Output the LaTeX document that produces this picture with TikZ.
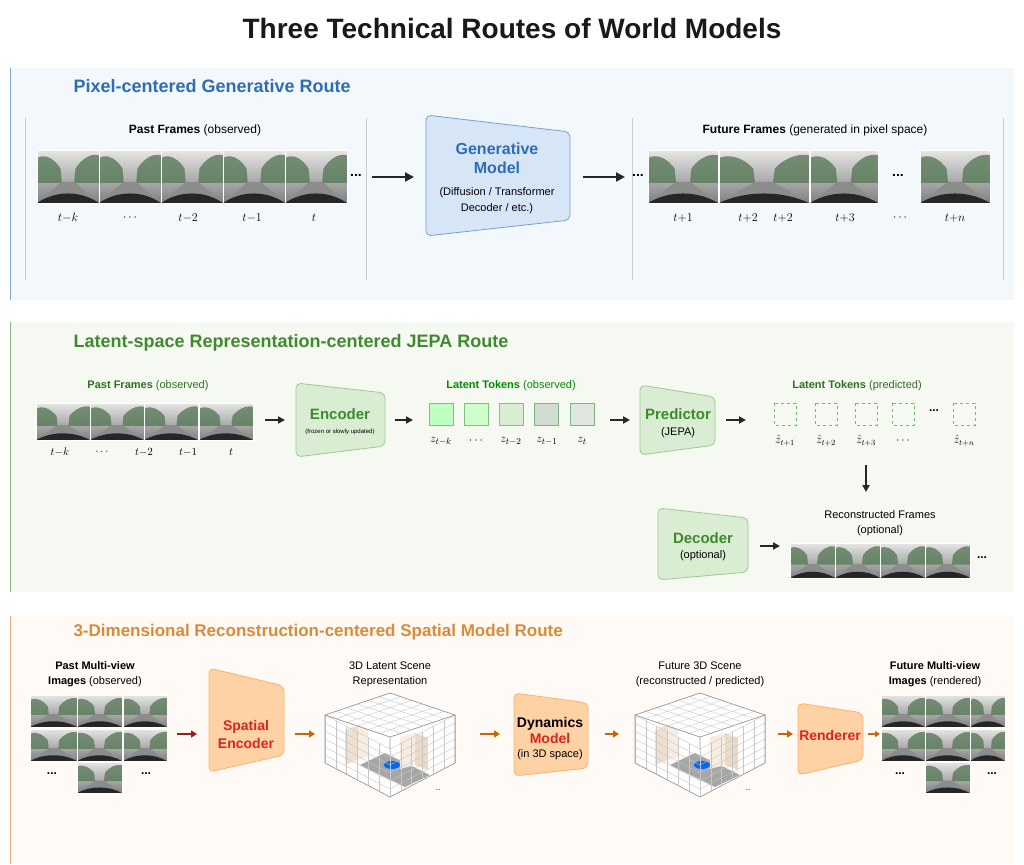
\documentclass[tikz,border=0pt]{standalone}
\usepackage{fontspec}
\setmainfont{Liberation Sans}
\usetikzlibrary{arrows.meta,calc}
\definecolor{bluet}{HTML}{2E6DB4}
\definecolor{greent}{HTML}{3F8A2E}
\definecolor{oranget}{HTML}{D98B3A}
\definecolor{redt}{HTML}{D9261C}
\definecolor{bluebg}{HTML}{F3F8FD}
\definecolor{bluefill}{HTML}{D6E6F7}
\definecolor{greenbg}{HTML}{F5F9F2}
\definecolor{greenfill}{HTML}{D9EDD3}
\definecolor{greenline}{HTML}{9CC991}
\newcommand\fs[1]{\fontsize{#1}{#1}\selectfont}
\newcommand\rpic[4]{%
\begin{scope}[shift={(#1,#2)},x=#3pt,y=-#4pt]
\shade[top color=black!10,bottom color=black!50] (0,0) rectangle (1,1);
\fill[green!20!black!65,opacity=.8] (0,.15) .. controls (.15,.05) and (.3,.2) .. (.38,.35) -- (.4,.62) -- (0,.62) -- cycle;
\fill[green!20!black!65,opacity=.8] (1,.1) .. controls (.85,.05) and (.7,.2) .. (.62,.35) -- (.6,.62) -- (1,.62) -- cycle;
\fill[black!45] (.4,.6) -- (.6,.6) -- (1,1) -- (0,1) -- cycle;
\fill[black!85] (0,1) .. controls (.3,.76) and (.7,.76) .. (1,1) -- cycle;
\draw[white,line width=.8pt] (0,0) rectangle (1,1);
\end{scope}}
\newcommand\isocube[2]{%
\begin{scope}[shift={(#1,#2)}]
\fill[white] (0,-42) -- (65,-20) -- (65,28) -- (0,62) -- (-65,28) -- (-65,-20) -- cycle;
\fill[black!35] (-30,30) -- (-5,18) -- (40,40) -- (15,52) -- cycle;
\fill[brown!25] (-45,-5) -- (-32,-10) -- (-32,25) -- (-45,30) -- cycle;
\fill[brown!15] (-32,-10) -- (-22,-6) -- (-22,22) -- (-32,25) -- cycle;
\fill[brown!30] (25,-2) -- (38,3) -- (38,35) -- (25,30) -- cycle;
\fill[brown!15] (10,2) -- (25,-2) -- (25,30) -- (10,34) -- cycle;
\fill[blue!60!cyan] (2,30) ellipse (8pt and 4pt);
\foreach \i in {0,...,6}{
  \draw[black!22,line width=.4pt] ($(-65,-20)!\i/6!(0,-42)$) -- ++(65,22);
  \draw[black!22,line width=.4pt] ($(-65,-20)!\i/6!(-65,28)$) -- ++(65,34);
  \draw[black!22,line width=.4pt] ($(-65,28)!\i/6!(0,62)$) -- ++(0,-48);
  \draw[black!22,line width=.4pt] ($(0,62)!\i/6!(65,28)$) -- ++(0,-48);
  \draw[black!22,line width=.4pt] ($(65,-20)!\i/6!(65,28)$) -- ++(-65,34);
  \draw[black!22,line width=.4pt] ($(0,-42)!\i/6!(65,-20)$) -- ++(-65,22);
}
\draw[black!40,line width=.6pt] (0,-42) -- (65,-20) -- (65,28) -- (0,62) -- (-65,28) -- (-65,-20) -- cycle;
\draw[black!40,line width=.6pt] (-65,-20) -- (0,2) -- (65,-20) (0,2) -- (0,14);
\node[font=\fs{8}] at (48,55) {..};
\end{scope}}
\tikzset{
 arr/.style={-{Triangle[length=9pt,width=9pt]},line width=2.2pt,black!85},
 sarr/.style={-{Triangle[length=7pt,width=7pt]},line width=1.8pt,black!85},
 oarr/.style={-{Triangle[length=6pt,width=7pt]},line width=1.8pt,orange!80!black},
 tl/.style={font=\fs{12}\itshape},
 trap/.style={rounded corners=5pt,line width=.8pt},
}
\begin{document}
\begin{tikzpicture}[x=1pt,y=-1pt]
\useasboundingbox (0,0) rectangle (1024,864);
\fill[white] (0,0) rectangle (1024,864);
\node[font=\fs{28}\bfseries,black!90] (title) at (512,28) {Three Technical Routes of World Models};
% ---------- panel 1
\fill[bluebg] (10,68) rectangle (1014,300);
\draw[bluet!60,line width=1pt] (10,68) -- (10,300);
\node[font=\fs{18}\bfseries,bluet,anchor=west] (t1) at (70,86) {Pixel-centered Generative Route};
\foreach \x in {25,366,632,1003} \draw[black!20] (\x,118) -- (\x,280);
\node[font=\fs{12}] (pf1) at (195,130) {\textbf{Past Frames} (observed)};
\foreach \x in {37,99,161,223,285} \rpic{\x}{150}{62}{53};
\foreach \x/\l in {68/t{-}k,130/\cdots,188/t{-}2,252/t{-}1,314/t} \node[tl] at (\x,218) {$\l$};
\node[font=\fs{14}\bfseries] (d1) at (356,175) {...};
\coordinate (a1s) at (372,177); \coordinate (a1e) at (414,177);
\draw[arr] (a1s) -- (a1e);
\draw[trap,fill=bluefill,draw=bluet!65] (426,115) -- (570,132) -- (570,220) -- (426,236) -- cycle;
\node[font=\fs{16}\bfseries,bluet,align=center] (gm) at (497,158) {Generative\\[3pt]Model};
\node[font=\fs{11},align=center] at (497,201) {(Diffusion / Transformer\\[5pt]Decoder / etc.)};
\draw[arr] (583,177) -- (625,177);
\node[font=\fs{14}\bfseries] at (638,175) {...};
\node[font=\fs{12}] (ff1) at (815,130) {\textbf{Future Frames} (generated in pixel space)};
\rpic{648}{150}{70}{53}\rpic{719}{150}{90}{53}\rpic{810}{150}{68}{53}\rpic{920}{150}{70}{53}
\node[font=\fs{14}\bfseries] at (898,175) {...};
\foreach \x/\l in {683/t{+}1,748/t{+}2,783/t{+}2,845/t{+}3,900/\cdots,955/t{+}n} \node[tl] at (\x,218) {$\l$};
% ---------- panel 2
\fill[greenbg] (10,322) rectangle (1014,592);
\draw[greent!60,line width=1pt] (10,322) -- (10,592);
\node[font=\fs{18}\bfseries,greent,anchor=west] (t2) at (70,343) {Latent-space Representation-centered JEPA Route};
\node[font=\fs{11},greent!80!black] (pf2) at (148,386) {\textbf{Past Frames} (observed)};
\foreach \x in {36,90,144,199} \rpic{\x}{403}{54}{37};
\foreach \x/\l in {60/t{-}k,102/\cdots,144/t{-}2,188/t{-}1,231/t} \node[font=\fs{11}\itshape] at (\x,452) {$\l$};
\draw[sarr] (265,420) -- (285,420);
\draw[trap,fill=greenfill,draw=greenline] (296,383) -- (385,393) -- (385,446) -- (296,457) -- cycle;
\node[font=\fs{15}\bfseries,greent] (enc) at (340,414) {Encoder};
\node[font=\fs{6}] at (340,432) {(frozen or slowly updated)};
\draw[sarr] (395,420) -- (413,420);
\node[font=\fs{11},green!55!black] (lto) at (511,386) {\textbf{Latent Tokens} (observed)};
\foreach \x/\c/\d in {441/green!25/green!50!black!50,476/green!20/green!50!black!50,511/greenfill/green!40!black!45,546/green!25!black!18/green!40!black!50,582/green!20!black!12/green!40!black!50}
  \draw[fill=\c,draw=\d,line width=1pt] (\x-12,403) rectangle (\x+12,425);
\foreach \x/\l in {441/z_{t-k},476/\cdots,511/z_{t-2},547/z_{t-1},582/z_t} \node[font=\fs{13}] at (\x,441) {$\l$};
\draw[sarr] (610,420) -- (630,420);
\draw[trap,fill=greenfill,draw=greenline] (640,385) -- (715,397) -- (715,445) -- (640,455) -- cycle;
\node[font=\fs{15}\bfseries,greent] (pred) at (678,414) {Predictor};
\node[font=\fs{11}] at (678,433) {(JEPA)};
\draw[sarr] (726,420) -- (746,420);
\node[font=\fs{11},greent!80!black] (ltp) at (857,386) {\textbf{Latent Tokens} (predicted)};
\foreach \x in {785,826,866,903,964}
  \draw[dashed,draw=green!50!black!55,line width=1pt] (\x-11,403) rectangle (\x+11,425);
\node[font=\fs{12}\bfseries] at (934,411) {...};
\foreach \x/\l in {785/\hat z_{t+1},826/\hat z_{t+2},866/\hat z_{t+3},903/\cdots,964/\hat z_{t+n}} \node[font=\fs{12}] at (\x,441) {$\l$};
\draw[sarr] (866,465) -- (866,492);
\draw[trap,fill=greenfill,draw=greenline] (658,508) -- (748,518) -- (748,572) -- (658,580) -- cycle;
\node[font=\fs{15}\bfseries,greent] (dec) at (703,538) {Decoder};
\node[font=\fs{11}] at (703,556) {(optional)};
\draw[sarr] (760,546) -- (780,546);
\node[font=\fs{11},align=center] (rf) at (880,523) {Reconstructed Frames\\[4pt](optional)};
\foreach \x in {790,835,880,925} \rpic{\x}{543}{45}{35};
\node[font=\fs{12}\bfseries] at (982,558) {...};
% ---------- panel 3
\fill[orange!4] (10,616) rectangle (1014,864);
\draw[oranget!70,line width=1pt] (10,616) -- (10,864);
\node[font=\fs{17}\bfseries,oranget,anchor=west] (t3) at (70,632) {3-Dimensional Reconstruction-centered Spatial Model Route};
\node[font=\fs{11},align=center] (pm) at (95,674) {\textbf{Past Multi-view}\\[4pt]\textbf{Images} (observed)};
\foreach \x/\w in {30/47,77/45,123/44} {\rpic{\x}{695}{\w}{32}\rpic{\x}{729}{\w}{32}}
\rpic{77}{762}{45}{31}
\node[font=\fs{12}\bfseries] at (52,774) {...}; \node[font=\fs{12}\bfseries] at (146,774) {...};
\draw[oarr,red!60!black!90] (177,734) -- (197,734);
\draw[trap,fill=orange!35,draw=orange!60] (209,668) -- (284,686) -- (284,755) -- (209,772) -- cycle;
\node[font=\fs{14}\bfseries,redt,align=center] (se) at (246,734) {Spatial\\[4pt]Encoder};
\draw[oarr] (295,734) -- (315,734);
\node[font=\fs{11},align=center] (l3d) at (390,674) {3D Latent Scene\\[4pt]Representation};
\isocube{390}{735}
\draw[oarr] (480,734) -- (500,734);
\draw[trap,fill=orange!35,draw=orange!60] (514,693) -- (588,703) -- (588,768) -- (514,776) -- cycle;
\node[font=\fs{14}\bfseries,align=center] (dm) at (550,730) {Dynamics\\[2pt]\textcolor{redt}{Model}};
\node[font=\fs{11}] at (550,755) {(in 3D space)};
\draw[oarr] (605,734) -- (619,734);
\node[font=\fs{11},align=center] (f3d) at (700,674) {Future 3D Scene\\[4pt](reconstructed / predicted)};
\isocube{700}{735}
\draw[oarr] (778,734) -- (793,734);
\draw[trap,fill=orange!35,draw=orange!60] (798,703) -- (863,713) -- (863,760) -- (798,775) -- cycle;
\node[font=\fs{14}\bfseries,redt] (ren) at (830,735) {Renderer};
\draw[oarr,-{Triangle[length=5pt,width=6pt]}] (868,734) -- (880,734);
\node[font=\fs{11},align=center] (fm) at (935,674) {\textbf{Future Multi-view}\\[4pt]\textbf{Images} (rendered)};
\foreach \x/\w in {881/44,925/45,970/35} {\rpic{\x}{695}{\w}{32}\rpic{\x}{729}{\w}{32}}
\rpic{925}{762}{45}{31}
\node[font=\fs{12}\bfseries] at (900,774) {...}; \node[font=\fs{12}\bfseries] at (992,774) {...};
\end{tikzpicture}
\end{document}
